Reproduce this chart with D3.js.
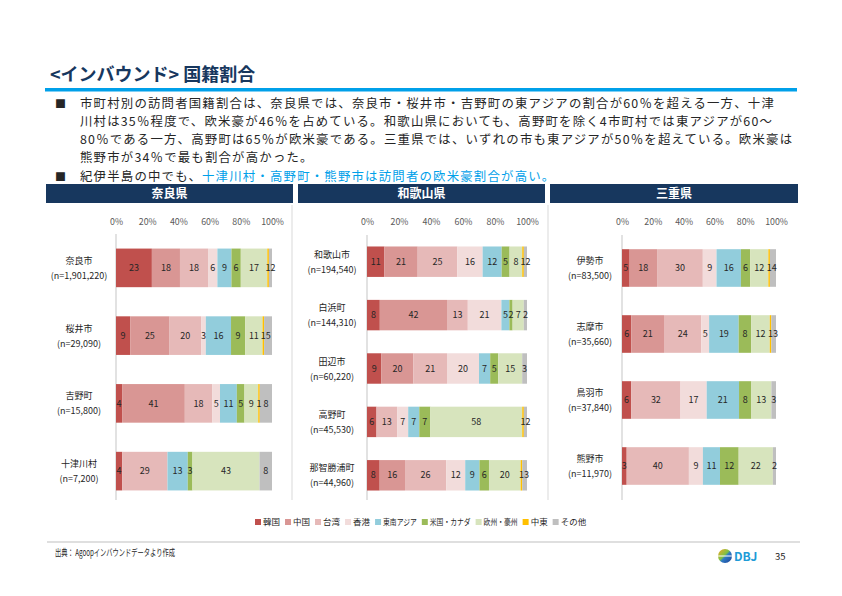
<!DOCTYPE html>
<html>
<head>
<meta charset="utf-8">
<script src="https://cdn.jsdelivr.net/npm/d3@7"></script>
<style>
  body { margin: 0; background: #fff; }
  svg { display: block; font-family: "Noto Sans CJK JP", "Noto Sans", sans-serif; }
</style>
</head>
<body>
<div id="chart"></div>
<script>
// categories (legend order = stack order)
const categories = ["韓国", "中国", "台湾", "香港", "東南アジア", "米国・カナダ", "欧州・豪州", "中東", "その他"];
const colors = ["#C0504D", "#D99694", "#E6B9B8", "#F2DCDB", "#92CDDC", "#9BBB59", "#D7E4BD", "#FFC000", "#BFBFBF"];
const tickValues = [0, 0.2, 0.4, 0.6, 0.8, 1];

// 奈良県
const naraAreas = ["奈良市", "桜井市", "吉野町", "十津川村"];
const naraCounts = ["1,901,220", "29,090", "15,800", "7,200"];
const naraValues = [
  [23, 18, 18, 6, 9, 6, 17, 1, 2],
  [9, 25, 20, 3, 16, 9, 11, 1, 5],
  [4, 41, 18, 5, 11, 5, 9, 1, 8],
  [4, 0, 29, 0, 13, 3, 43, 0, 8]
];

// 和歌山県
const wakayamaAreas = ["和歌山市", "白浜町", "田辺市", "高野町", "那智勝浦町"];
const wakayamaCounts = ["194,540", "144,310", "60,220", "45,530", "44,960"];
const wakayamaValues = [
  [11, 21, 25, 16, 12, 5, 8, 1, 2],
  [8, 42, 13, 21, 5, 2, 7, 0, 2],
  [9, 20, 21, 20, 7, 5, 15, 0, 3],
  [6, 0, 13, 7, 7, 7, 58, 1, 2],
  [8, 16, 26, 12, 9, 6, 20, 1, 3]
];

// 三重県
const mieAreas = ["伊勢市", "志摩市", "鳥羽市", "熊野市"];
const mieCounts = ["83,500", "35,660", "37,840", "11,970"];
const mieValues = [
  [5, 18, 30, 9, 16, 6, 12, 1, 4],
  [6, 21, 24, 5, 19, 8, 12, 1, 3],
  [6, 0, 32, 17, 21, 8, 13, 0, 3],
  [3, 0, 40, 9, 11, 12, 22, 0, 2]
];

const W = 842, H = 596;
const navy = "#17375E", cyan = "#00A0E9", ink = "#262626";

const svg = d3.select("#chart").append("svg")
  .attr("width", W).attr("height", H);

// ---- header ----
svg.append("text")
  .attr("x", 50).attr("y", 81)
  .attr("font-size", 18).attr("font-weight", "bold").attr("fill", navy)
  .text("<インバウンド> 国籍割合");

svg.append("rect")
  .attr("x", 45).attr("y", 88).attr("width", 752).attr("height", 3.5)
  .attr("fill", cyan);

const bodyLines = [
  "市町村別の訪問者国籍割合は、奈良県では、奈良市・桜井市・吉野町の東アジアの割合が60％を超える一方、十津",
  "川村は35％程度で、欧米豪が46％を占めている。和歌山県においても、高野町を除く4市町村では東アジアが60～",
  "80％である一方、高野町は65％が欧米豪である。三重県では、いずれの市も東アジアが50％を超えている。欧米豪は",
  "熊野市が34％で最も割合が高かった。"
];
const bodyY = [108, 126, 144, 162];
const bodySize = 12.4;

// letter spacing so the first line spans the same width as the reference
const probe = svg.append("text").attr("font-size", bodySize).text(bodyLines[0]);
const spacing = (695 - probe.node().getComputedTextLength()) / bodyLines[0].length;
probe.remove();

bodyLines.forEach((l, i) => {
  if (i === 0) {
    svg.append("text").attr("x", 55).attr("y", bodyY[i])
      .attr("font-size", 11).attr("fill", ink).text("■");
  }
  svg.append("text").attr("x", 80).attr("y", bodyY[i])
    .attr("font-size", bodySize).attr("letter-spacing", spacing).attr("fill", ink).text(l);
});
svg.append("text").attr("x", 55).attr("y", 181)
  .attr("font-size", 11).attr("fill", ink).text("■");
const lastLine = svg.append("text").attr("x", 80).attr("y", 181)
  .attr("font-size", bodySize).attr("letter-spacing", spacing).attr("fill", ink);
lastLine.append("tspan").text("紀伊半島の中でも、");
lastLine.append("tspan").attr("fill", cyan).text("十津川村・高野町・熊野市は訪問者の欧米豪割合が高い。");

// ---- panels ----
const panels = [
  { title: "奈良県", left: 46, right: 293, x0: 116, x1: 272, labelX: 79, sep: null,
    yTop: 234, yBottom: 505, areas: naraAreas, counts: naraCounts, values: naraValues },
  { title: "和歌山県", left: 298, right: 545, x0: 367, x1: 527, labelX: 332, sep: 292,
    yTop: 235, yBottom: 502, areas: wakayamaAreas, counts: wakayamaCounts, values: wakayamaValues },
  { title: "三重県", left: 550, right: 798, x0: 622, x1: 776, labelX: 590, sep: 548,
    yTop: 235, yBottom: 499, areas: mieAreas, counts: mieCounts, values: mieValues }
];

const stack = d3.stack()
  .keys(d3.range(categories.length))
  .value((row, k) => row[k])
  .offset(d3.stackOffsetExpand);

panels.forEach(p => {
  // header bar
  svg.append("rect")
    .attr("x", p.left).attr("y", 184).attr("width", p.right - p.left).attr("height", 19)
    .attr("fill", navy);
  svg.append("text")
    .attr("x", (p.left + p.right) / 2).attr("y", 198)
    .attr("text-anchor", "middle").attr("font-size", 12).attr("font-weight", "bold")
    .attr("fill", "#fff").text(p.title);

  if (p.sep) {
    svg.append("line")
      .attr("x1", p.sep).attr("x2", p.sep).attr("y1", 205).attr("y2", 500)
      .attr("stroke", "#D9D9D9").attr("stroke-width", 1);
  }

  const x = d3.scaleLinear().domain([0, 1]).range([p.x0, p.x1]);
  const y = d3.scaleBand().domain(p.areas).range([p.yTop, p.yBottom]).paddingInner(0.43).paddingOuter(0.215);

  const g = svg.append("g");

  // top axis labels
  g.append("g")
    .attr("transform", "translate(0,225)")
    .call(d3.axisTop(x).tickValues(tickValues).tickFormat(d3.format(".0%")).tickSize(0).tickPadding(0))
    .call(a => a.select(".domain").remove())
    .call(a => a.selectAll("text")
      .attr("font-size", 8.8).attr("fill", "#595959")
      .attr("font-family", "\"Noto Sans CJK JP\", sans-serif"));

  // vertical axis line
  g.append("line")
    .attr("x1", p.x0).attr("x2", p.x0).attr("y1", p.yTop).attr("y2", 500)
    .attr("stroke", "#D9D9D9").attr("stroke-width", 1.5);

  const series = stack(p.values);

  const layer = g.selectAll("g.layer")
    .data(series).enter().append("g")
    .attr("class", "layer")
    .attr("fill", d => colors[d.key]);

  layer.selectAll("rect")
    .data(d => d.map((s, i) => ({ s, i })))
    .enter().append("rect")
    .attr("x", d => x(d.s[0]))
    .attr("width", d => x(d.s[1]) - x(d.s[0]))
    .attr("y", d => y(p.areas[d.i]))
    .attr("height", y.bandwidth());

  // data labels, nudged right when small segments crowd together
  p.values.forEach((row, i) => {
    let prevRight = -Infinity;
    series.forEach(s => {
      const v = row[s.key];
      if (v <= 0) return;
      const w = String(v).length * 5;
      let cx = (x(s[i][0]) + x(s[i][1])) / 2;
      if (cx - w / 2 < prevRight) cx = prevRight + w / 2;
      prevRight = cx + w / 2;
      g.append("text")
        .attr("x", cx)
        .attr("y", y(p.areas[i]) + y.bandwidth() / 2)
        .attr("dy", "0.35em")
        .attr("text-anchor", "middle")
        .attr("font-size", 9).attr("fill", ink)
        .text(v);
    });
  });

  // category labels
  p.areas.forEach((a, i) => {
    const cy = y(a) + y.bandwidth() / 2;
    g.append("text").attr("x", p.labelX).attr("y", cy - 4)
      .attr("text-anchor", "middle").attr("font-size", 9).attr("fill", ink).text(a);
    g.append("text").attr("x", p.labelX).attr("y", cy + 11)
      .attr("text-anchor", "middle").attr("font-size", 9).attr("fill", ink).text(`(n=${p.counts[i]})`);
  });
});

// ---- legend ----
const legend = svg.append("g").attr("transform", "translate(255,522)");
let lx = 0;
categories.forEach((c, i) => {
  const item = legend.append("g").attr("transform", `translate(${lx},0)`);
  item.append("rect").attr("x", 0).attr("y", -3).attr("width", 6).attr("height", 6).attr("fill", colors[i]);
  const t = item.append("text").attr("x", 8).attr("y", 0).attr("dy", "0.35em")
    .attr("font-size", 8.5).attr("fill", ink).text(c);
  let tw = t.node().getComputedTextLength();
  if (c.length > 3) {
    tw *= 0.8;
    t.attr("textLength", tw).attr("lengthAdjust", "spacingAndGlyphs");
  }
  lx += 8 + tw + 5;
});

// ---- footer ----
svg.append("line")
  .attr("x1", 47).attr("x2", 800).attr("y1", 542).attr("y2", 542)
  .attr("stroke", "#BFBFBF").attr("stroke-width", 1);
svg.append("text").attr("x", 55).attr("y", 556)
  .attr("font-size", 9.5).attr("fill", ink)
  .attr("textLength", 120).attr("lengthAdjust", "spacingAndGlyphs")
  .text("出典： Agoopインバウンドデータより作成");

const grad = svg.append("defs").append("linearGradient")
  .attr("id", "logoGrad").attr("x1", "0").attr("y1", "0").attr("x2", "1").attr("y2", "1");
grad.append("stop").attr("offset", "0%").attr("stop-color", "#F5A623");
grad.append("stop").attr("offset", "45%").attr("stop-color", "#7DC242");
grad.append("stop").attr("offset", "55%").attr("stop-color", "#2E7BC4");
grad.append("stop").attr("offset", "100%").attr("stop-color", "#1B3F94");
svg.append("circle").attr("cx", 725).attr("cy", 556).attr("r", 7).attr("fill", "url(#logoGrad)");
svg.append("line").attr("x1", 718).attr("x2", 732).attr("y1", 556).attr("y2", 556)
  .attr("stroke", "#fff").attr("stroke-width", 1);
svg.append("text").attr("x", 734).attr("y", 561)
  .attr("font-size", 12).attr("font-weight", "bold").attr("fill", "#1E9BD7").text("DBJ");
svg.append("text").attr("x", 775).attr("y", 560)
  .attr("font-size", 9.5).attr("fill", ink).text("35");
</script>
</body>
</html>
